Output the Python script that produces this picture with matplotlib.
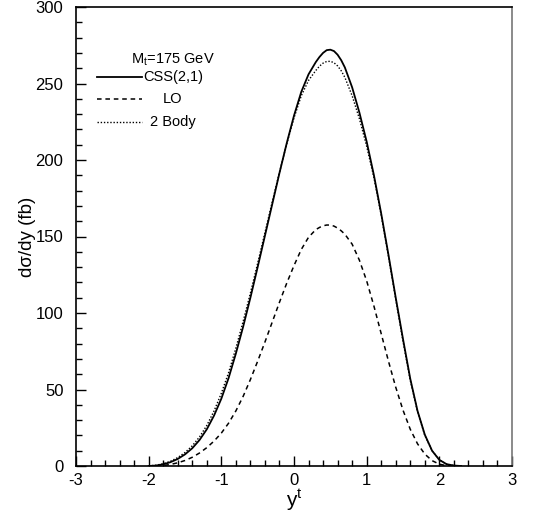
import numpy as np
import matplotlib.pyplot as plt
from matplotlib.ticker import MultipleLocator

plt.rcParams['font.family'] = ['Liberation Sans', 'DejaVu Sans']
plt.rcParams['mathtext.fontset'] = 'custom'
plt.rcParams['mathtext.rm'] = 'Liberation Sans'
plt.rcParams['mathtext.it'] = 'Liberation Sans'
plt.rcParams['axes.unicode_minus'] = False

# rapidity grid for CSS(2,1) and 2 Body (finer around the peak)
y_css = np.round(np.r_[np.arange(-2.0, 0.25, 0.1),
                       np.arange(0.3, 0.67, 0.05),
                       np.arange(0.7, 2.35, 0.1)], 2)
css = [0, 0.3, 1.1, 2.5, 4.6, 7.6, 11.6, 17, 24, 33,
       44, 57.5, 73.5, 91, 110, 130, 150.5, 171, 191.5, 211,
       229, 244.5, 256,
       264, 267.3, 270, 271.8, 272.1, 271.2, 268.8, 265.2,
       260.5, 247.5, 231, 212, 190, 165, 138, 110, 83, 57,
       36, 20.5, 10, 4, 1.2, 0.3, 0]

body2 = [0.1, 0.5, 1.5, 3.1, 5.5, 8.8, 13.2, 19, 26.5, 36,
         47.5, 61, 77, 94.5, 113, 132.5, 152.5, 172.5, 192, 210.5,
         227.5, 242, 252,
         258.5, 261.3, 263.3, 264.4, 264.5, 263.6, 261.5, 258.3,
         254, 242, 227, 209, 188.5, 164, 137, 109, 81.5, 56,
         35.5, 20, 10, 4, 1.2, 0.3, 0]

# rapidity grid for LO
y_lo = np.round(np.r_[np.arange(-1.9, 0.25, 0.1),
                      np.arange(0.3, 0.67, 0.05),
                      np.arange(0.7, 2.25, 0.1)], 2)
lo = [0, 0.35, 1.0, 2.1, 3.6, 5.7, 8.5, 12, 16.3, 21.5,
      28, 36, 45.5, 56.5, 68.5, 81, 94, 107, 119.5, 131,
      141.5, 149.5,
      154.5, 155.9, 157, 157.5, 157.5, 156.8, 155.5, 153.7,
      151.5, 145, 134.5, 121, 104.5, 86.5, 68.5, 51.5, 36.5, 24,
      14.5, 7.8, 3.5, 1.2, 0.2, 0]

fig = plt.figure(figsize=(5.52, 5.16), dpi=100)
ax = fig.add_axes([76/552, 50/516, 436/552, 459/516])

ls_css = '-'
ls_lo = (0, (3, 2.5))
ls_2b = (0, (1, 1.3))
ax.plot(y_css, css, color='black', lw=1.3, ls=ls_css)
ax.plot(y_lo, lo, color='black', lw=1.1, ls=ls_lo)
ax.plot(y_css, body2, color='black', lw=1.0, ls=ls_2b)

ax.set_xlim(-3, 3)
ax.set_ylim(0, 300)
ax.xaxis.set_major_locator(MultipleLocator(1))
ax.xaxis.set_minor_locator(MultipleLocator(0.2))
ax.yaxis.set_major_locator(MultipleLocator(50))
ax.yaxis.set_minor_locator(MultipleLocator(10))
ax.tick_params(which='both', direction='in', top=False, right=False,
               labelsize=12, width=1)
ax.tick_params(which='major', length=7)
ax.tick_params(which='minor', length=4)
ax.tick_params(axis='x', pad=5)
ax.tick_params(axis='y', pad=9)
for s in ax.spines.values():
    s.set_linewidth(1.2)
ax.spines['right'].set_color('#777777')

ax.set_ylabel('dσ/dy (fb)', fontsize=13.5, labelpad=0)
ax.set_xlabel(r'y$^{\mathrm{t}}$', fontsize=15, labelpad=0)

# legend block
ax.text(0.222, 0.886, r'M$_{\mathrm{t}}$=175 GeV', transform=ax.transAxes,
        ha='center', va='center', fontsize=10.5)
rows = [(0.847, 1.3, ls_css, 'CSS(2,1)'),
        (0.800, 1.1, ls_lo, 'LO'),
        (0.749, 1.0, ls_2b, '2 Body')]
for ypos, lw, ls, label in rows:
    ax.plot([0.048, 0.151], [ypos, ypos], transform=ax.transAxes,
            color='black', lw=lw, ls=ls)
    ax.text(0.222, ypos, label, transform=ax.transAxes,
            ha='center', va='center', fontsize=10.5)

fig.savefig('out.png', dpi=100)
